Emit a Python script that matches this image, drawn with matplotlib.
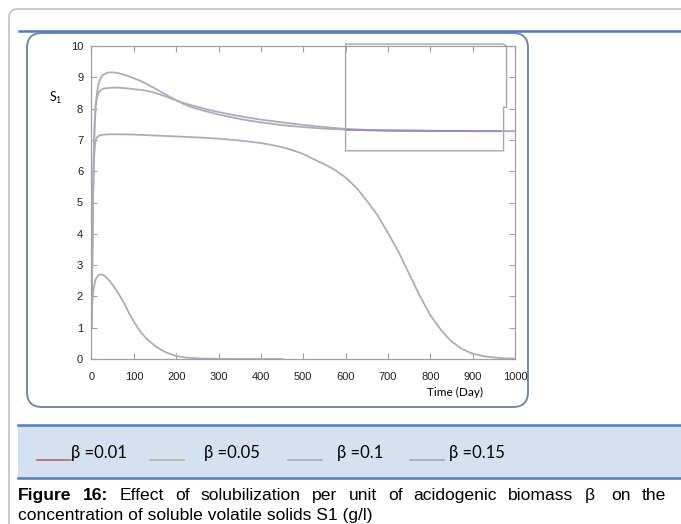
import matplotlib
matplotlib.use("Agg")
import matplotlib.pyplot as plt
import numpy as np
from matplotlib.patches import FancyBboxPatch, Rectangle

# --- data ---
t_a = [0, 2, 4, 6, 8, 10, 13, 16, 20, 25, 30, 35, 40, 45, 50, 60, 70, 80, 90, 100, 115, 130, 145, 160, 175,
       190, 205, 220, 240, 260, 280, 300, 325, 350, 375, 400, 450, 500, 550, 600, 650, 700, 800, 900, 1000]
s_a = [1.0, 3.2, 5.3, 6.8, 7.6, 8.1, 8.5, 8.75, 8.93, 9.05, 9.10, 9.13, 9.15, 9.16, 9.16, 9.14, 9.11, 9.07, 9.02,
       8.97, 8.89, 8.79, 8.68, 8.57, 8.45, 8.34, 8.23, 8.13, 8.03, 7.95, 7.88, 7.81, 7.74, 7.67, 7.61, 7.56, 7.47,
       7.41, 7.36, 7.33, 7.31, 7.30, 7.29, 7.28, 7.28]
t_b = t_a
s_b = [1.0, 3.4, 5.6, 7.0, 7.7, 8.1, 8.35, 8.48, 8.57, 8.62, 8.64, 8.65, 8.66, 8.665, 8.67, 8.67, 8.66, 8.65, 8.64,
       8.62, 8.60, 8.57, 8.52, 8.46, 8.39, 8.31, 8.24, 8.17, 8.09, 8.02, 7.95, 7.89, 7.82, 7.76, 7.70, 7.65, 7.56,
       7.48, 7.41, 7.35, 7.32, 7.30, 7.29, 7.28, 7.28]
t_c = [0, 2, 4, 6, 8, 10, 14, 20, 30, 45, 60, 100, 150, 200, 250, 300, 350, 400, 425, 450, 475, 500, 525, 550,
       575, 600, 625, 650, 675, 700, 725, 750, 775, 800, 825, 850, 875, 900, 925, 950, 975, 1000]
s_c = [1.0, 3.5, 5.4, 6.4, 6.8, 7.0, 7.1, 7.15, 7.17, 7.18, 7.18, 7.17, 7.14, 7.11, 7.08, 7.04, 6.98, 6.90, 6.84,
       6.77, 6.67, 6.55, 6.38, 6.22, 6.04, 5.80, 5.48, 5.06, 4.60, 4.03, 3.42, 2.72, 2.02, 1.40, 0.93, 0.56, 0.32,
       0.17, 0.09, 0.05, 0.02, 0.01]
t_d = [0, 1, 2, 4, 7, 10, 15, 20, 25, 30, 40, 50, 60, 70, 80, 90, 100, 110, 120, 130, 140, 150, 160, 170, 180,
       190, 200, 220, 240, 260, 280, 300, 350, 400, 450]
s_d = [1.0, 1.5, 1.8, 2.15, 2.4, 2.55, 2.66, 2.70, 2.70, 2.66, 2.54, 2.37, 2.17, 1.95, 1.70, 1.43, 1.19, 0.98,
       0.80, 0.65, 0.53, 0.42, 0.33, 0.25, 0.19, 0.14, 0.10, 0.05, 0.03, 0.015, 0.01, 0.005, 0.0, 0.0, 0.0]
# coloured bit of the beta=0.01 curve that shows through at the end
t_tail = [600, 700, 800, 900, 965]
s_tail = [7.32, 7.30, 7.29, 7.28, 7.28]
# leftover (empty) legend box in the original
box_t = [600, 973, 980, 980, 973, 973, 600, 600]
box_s = [10.06, 10.06, 10.0, 8.04, 8.04, 6.65, 6.65, 10.06]

legend_labels = ["\u03b2 =0.01", "\u03b2 =0.05", "\u03b2 =0.1", "\u03b2 =0.15"]
legend_colors = ["#b56a6e", "#a9b8ab", "#a6adbd", "#a3a9b6"]

W, H = 681, 524
fig = plt.figure(figsize=(W / 100, H / 100), dpi=100)

# page decorations in pixel coordinates
bg = fig.add_axes([0, 0, 1, 1], zorder=0)
bg.set_xlim(0, W)
bg.set_ylim(H, 0)
bg.axis("off")
ang = np.linspace(np.pi, 1.5 * np.pi, 20)
bg.plot(np.r_[9, 17 + 8 * np.cos(ang), W], np.r_[H, 17 + 8 * np.sin(ang), 9],
        color="#b4b4b4", lw=1.0)
bg.plot([19, W], [31, 31], color="#4f7fc2", lw=1.8)
bg.add_patch(FancyBboxPatch((27, 33), 501, 374, boxstyle="round,pad=0,rounding_size=15",
                            fc="white", ec="#7189a8", lw=1.4))
bg.add_patch(Rectangle((18, 425), W - 18, 53, fc="#d5e1ef", ec="none"))
bg.plot([18, W], [425, 425], color="#4f7fc2", lw=1.8)
bg.plot([18, W], [478, 478], color="#4f7fc2", lw=1.8)

leg_x = [37, 150, 288, 410]
txt_x = [71, 204, 337, 449]
for lx, tx, lab, col in zip(leg_x, txt_x, legend_labels, legend_colors):
    bg.plot([lx, lx + 34], [460, 460], color=col, lw=1.2)
    bg.text(tx, 458, lab, fontsize=12, family=["Lato", "DejaVu Sans"], va="baseline", ha="left")

# caption, first line justified
r = fig.canvas.get_renderer()
bg.text(18, 520, "concentration of soluble volatile solids S1 (g/l)",
        fontsize=12.6, family="Liberation Sans", va="baseline")
words = [("Figure", "bold"), ("16:", "bold"), ("Effect", "normal"), ("of", "normal"),
         ("solubilization", "normal"), ("per", "normal"), ("unit", "normal"), ("of", "normal"),
         ("acidogenic", "normal"), ("biomass", "normal"), ("\u03b2 ", "normal"), ("on", "normal"),
         ("the", "normal")]
arts = [bg.text(0, 500, w, fontsize=12.6, family="Liberation Sans", weight=wt, va="baseline")
        for w, wt in words]
widths = [a.get_window_extent(r).width for a in arts]
gap = (666 - 18 - sum(widths)) / (len(arts) - 1)
x = 18
for a, wd in zip(arts, widths):
    a.set_x(x)
    x += wd + gap

# main plot
ax = fig.add_axes([91.5 / W, 1 - 359 / H, 423.5 / W, 313 / H], zorder=1)
gray = "#adadb9"
ax.plot(t_a, s_a, color=gray, lw=1.3)
ax.plot(t_b, s_b, color=gray, lw=1.3)
ax.plot(t_c, s_c, color=gray, lw=1.3)
ax.plot(t_d, s_d, color=gray, lw=1.3)
ax.plot(t_tail, s_tail, color="#9a86c8", lw=1.3)
ax.plot(box_t, box_s, color="#a8a8a8", lw=1.0, clip_on=False)

ax.set_xlim(0, 1000)
ax.set_ylim(0, 10)
ax.set_xticks(range(0, 1001, 100))
ax.set_yticks(range(0, 11))
for sp in ax.spines.values():
    sp.set_color("#a0a0a0")
    sp.set_linewidth(0.9)
ax.tick_params(direction="in", length=4, width=0.8, color="#a0a0a0",
               top=True, right=True, labelsize=8, labelcolor="#222222")
ax.tick_params(axis="x", pad=9)
ax.tick_params(axis="y", pad=6)
for lab in ax.get_xticklabels() + ax.get_yticklabels():
    lab.set_family(["Liberation Sans Narrow", "Liberation Sans"])

ax.text(-0.085, 0.835, r"S$_\mathregular{1}$", transform=ax.transAxes, fontsize=9,
        family=["Lato", "DejaVu Sans"], ha="center", va="center")
fig.text(455 / W, 1 - 392 / H, "Time (Day)", fontsize=8.5, family=["Lato", "DejaVu Sans"],
         ha="center", va="center")

fig.savefig("out.png", dpi=100)
